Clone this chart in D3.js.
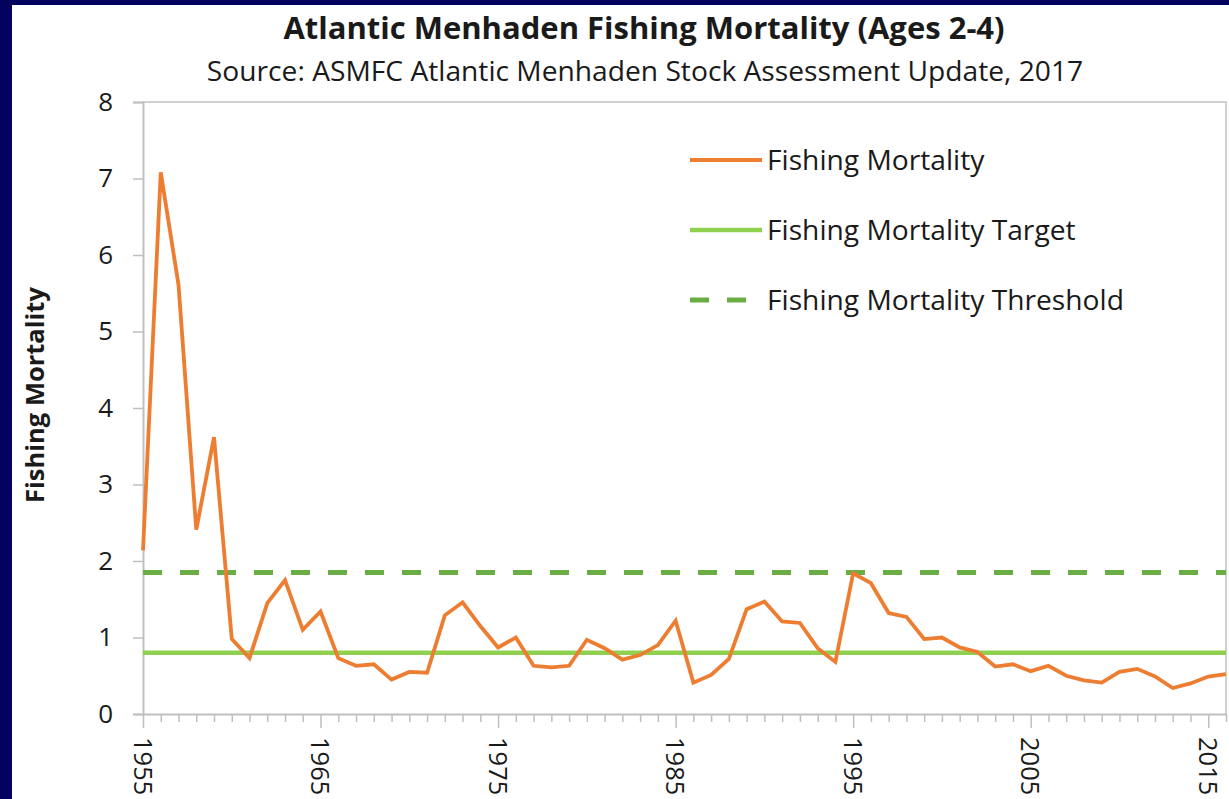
<!DOCTYPE html>
<html>
<head>
<meta charset="utf-8">
<script src="https://cdn.jsdelivr.net/npm/d3@7"></script>
<style>
  html, body { margin: 0; padding: 0; background: #03035f; }
  svg { display: block; }
  text { font-family: "Open Sans", sans-serif; fill: #1a1a1a; }
</style>
</head>
<body>
<script>
// Atlantic menhaden fishing mortality, ages 2-4 (ASMFC update 2017)
const years = d3.range(1955, 2017);
const mortality = [
  2.14, 7.08, 5.61, 2.41, 3.62, 0.98, 0.73, 1.45, 1.75, 1.10,
  1.34, 0.73, 0.63, 0.65, 0.45, 0.55, 0.54, 1.29, 1.46, 1.15,
  0.87, 1.00, 0.63, 0.61, 0.63, 0.97, 0.86, 0.71, 0.77, 0.90,
  1.22, 0.41, 0.51, 0.72, 1.37, 1.47, 1.21, 1.19, 0.86, 0.68,
  1.84, 1.71, 1.32, 1.27, 0.98, 1.00, 0.87, 0.81, 0.62, 0.65,
  0.56, 0.63, 0.50, 0.44, 0.41, 0.55, 0.59, 0.49, 0.34, 0.40,
  0.49, 0.52
];
const target = 0.80;
const threshold = 1.85;
const yTicks = [0, 1, 2, 3, 4, 5, 6, 7, 8];
const xLabelYears = [1955, 1965, 1975, 1985, 1995, 2005, 2015];
const legendItems = ["Fishing Mortality", "Fishing Mortality Target", "Fishing Mortality Threshold"];

const W = 1229, H = 799;
const orange = "#ed7d31", lightGreen = "#8fd14f", darkGreen = "#6aad45", axisGrey = "#bfbfbf";

const svg = d3.select("body").append("svg")
    .attr("width", W)
    .attr("height", H);

// white panel inside the navy slide border
svg.append("rect")
    .attr("x", 12).attr("y", 5)
    .attr("width", W - 12).attr("height", H - 5)
    .attr("fill", "#fff");

const plot = { left: 143, right: 1226, top: 102, bottom: 714 };

const x = d3.scaleLinear().domain([1955, 2016]).range([plot.left, plot.right]);
const y = d3.scaleLinear().domain([0, 8]).range([plot.bottom, plot.top]);

// titles
svg.append("text")
    .attr("x", 644).attr("y", 39)
    .attr("text-anchor", "middle")
    .style("font-size", "31px").style("font-weight", 700)
    .text("Atlantic Menhaden Fishing Mortality (Ages 2-4)");

svg.append("text")
    .attr("x", 645).attr("y", 81)
    .attr("text-anchor", "middle")
    .style("font-size", "28.2px")
    .text("Source: ASMFC Atlantic Menhaden Stock Assessment Update, 2017");

svg.append("text")
    .attr("transform", "translate(44, 395) rotate(-90)")
    .attr("text-anchor", "middle")
    .style("font-size", "25.5px").style("font-weight", 700)
    .text("Fishing Mortality");

// plot frame (top and right edges)
svg.append("path")
    .attr("d", `M${plot.left},${plot.top}H${plot.right}V${plot.bottom}`)
    .attr("fill", "none")
    .attr("stroke", "#d0d0d0")
    .attr("stroke-width", 2);

// y axis
const yAxis = svg.append("g")
    .attr("transform", `translate(${plot.left},0)`)
    .call(d3.axisLeft(y).tickValues(yTicks).tickSize(10).tickPadding(20).tickFormat(d3.format("d")));
yAxis.select(".domain").attr("stroke", axisGrey).attr("stroke-width", 2);
yAxis.selectAll(".tick line").attr("stroke", axisGrey).attr("stroke-width", 1.5);
yAxis.selectAll("text")
    .style("font-size", "26px")
    .style("font-family", "'Open Sans', sans-serif")
    .attr("fill", "#1a1a1a");

// x axis: a tick every year, a label every ten
const xAxis = svg.append("g")
    .attr("transform", `translate(0,${plot.bottom})`)
    .call(d3.axisBottom(x).tickValues(years).tickSize(8).tickSizeOuter(0)
      .tickFormat(d => xLabelYears.includes(d) ? d : ""));
xAxis.select(".domain").attr("stroke", axisGrey).attr("stroke-width", 2);
xAxis.selectAll(".tick line").attr("stroke", axisGrey).attr("stroke-width", 1.5);
xAxis.selectAll(".tick").filter(d => xLabelYears.includes(d)).select("line").attr("y2", 14);
xAxis.selectAll("text")
    .attr("y", 0).attr("x", 0).attr("dy", null)
    .attr("transform", "translate(0,23) rotate(90)")
    .attr("text-anchor", "start")
    .attr("dominant-baseline", "central")
    .style("font-size", "25.5px")
    .style("font-family", "'Open Sans', sans-serif")
    .attr("fill", "#1a1a1a");

// reference lines
svg.append("line")
    .attr("x1", x(1955)).attr("x2", x(2016))
    .attr("y1", y(target)).attr("y2", y(target))
    .attr("stroke", lightGreen).attr("stroke-width", 4.5);

svg.append("line")
    .attr("x1", x(1955)).attr("x2", x(2016))
    .attr("y1", y(threshold)).attr("y2", y(threshold))
    .attr("stroke", darkGreen).attr("stroke-width", 5)
    .attr("stroke-dasharray", "19,18");

// mortality series
const line = d3.line()
    .x((d, i) => x(years[i]))
    .y(d => y(d));

svg.append("path")
    .datum(mortality)
    .attr("d", line)
    .attr("fill", "none")
    .attr("stroke", orange)
    .attr("stroke-width", 3.8)
    .attr("stroke-linejoin", "miter");

// legend
const legendStyles = [
  { color: orange, width: 3.8, dash: null },
  { color: lightGreen, width: 4.5, dash: null },
  { color: darkGreen, width: 5, dash: "19,18" }
];
const legend = svg.append("g").attr("transform", "translate(690,160)");
legendItems.forEach((name, i) => {
  const row = legend.append("g").attr("transform", `translate(0,${i * 70})`);
  row.append("line")
      .attr("x1", 0).attr("x2", 72)
      .attr("stroke", legendStyles[i].color)
      .attr("stroke-width", legendStyles[i].width)
      .attr("stroke-dasharray", legendStyles[i].dash);
  row.append("text")
      .attr("x", 77).attr("dy", "0.36em")
      .style("font-size", "28.2px")
      .text(name);
});
</script>
</body>
</html>
